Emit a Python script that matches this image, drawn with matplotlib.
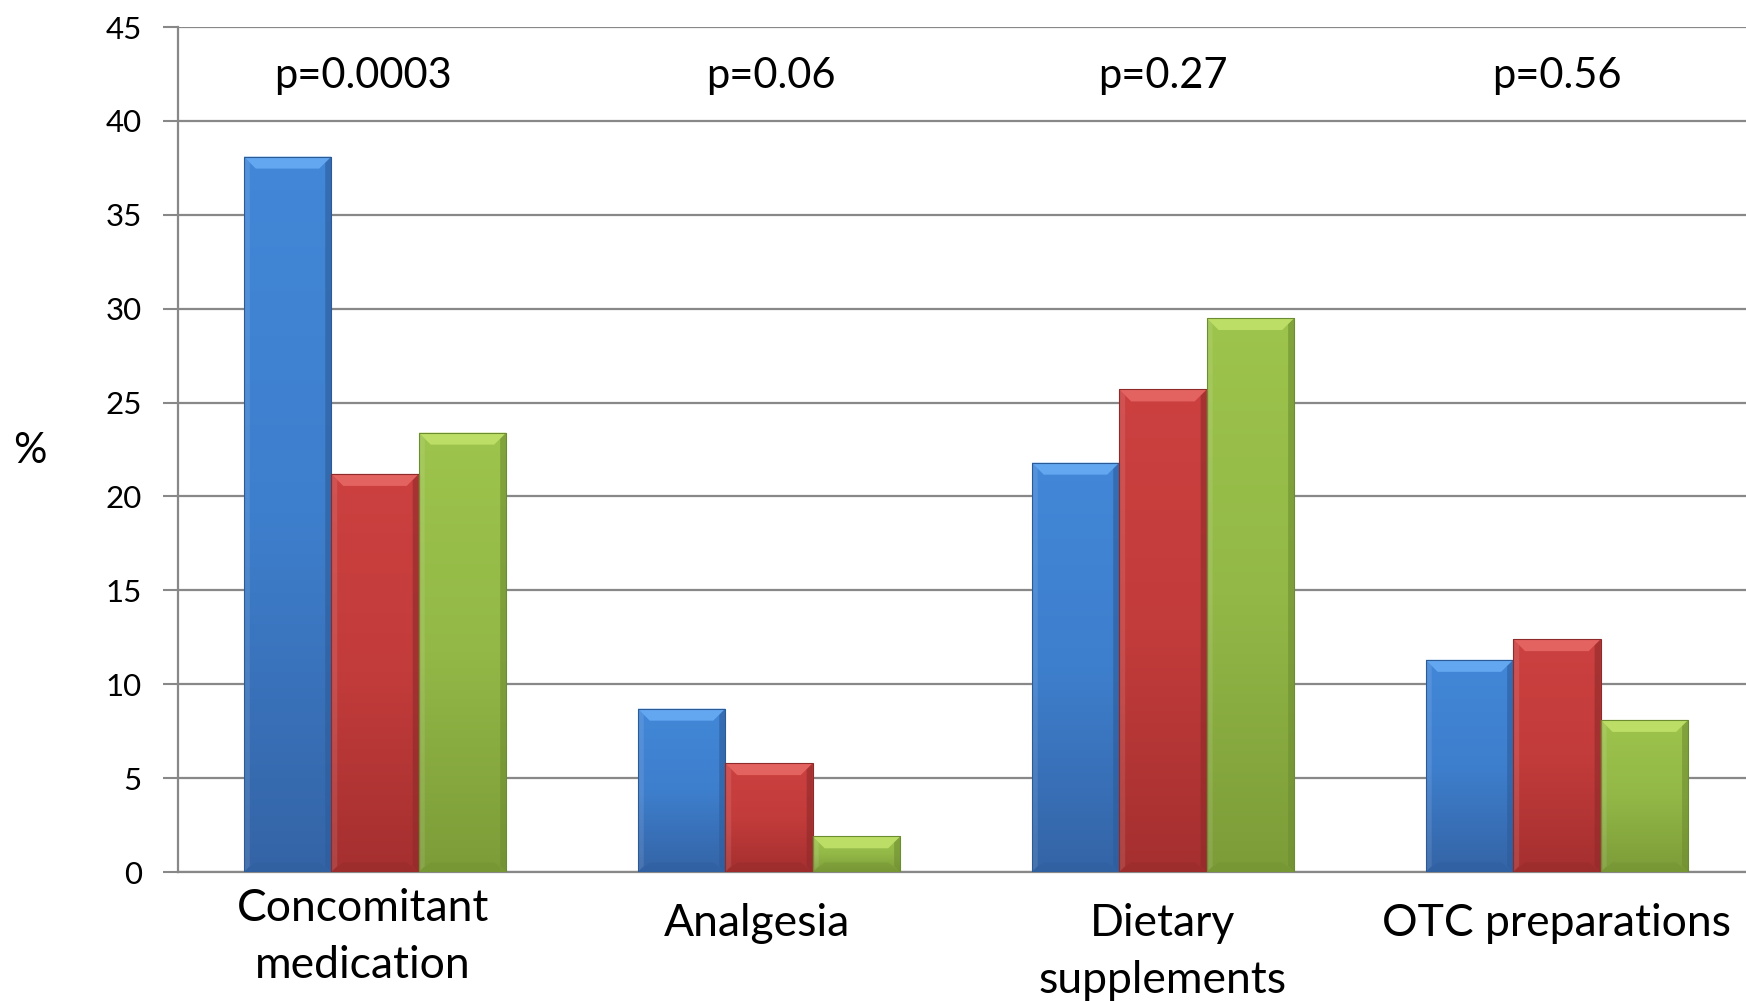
import matplotlib
matplotlib.use("Agg")
import matplotlib.pyplot as plt
import numpy as np
from matplotlib.colors import LinearSegmentedColormap

categories = ["Concomitant\nmedication", "Analgesia", "Dietary\nsupplements", "OTC preparations"]
blue_vals = [38.1, 8.7, 21.8, 11.3]
red_vals = [21.2, 5.8, 25.7, 12.4]
green_vals = [23.4, 1.9, 29.5, 8.1]
p_values = ["p=0.0003", "p=0.06", "p=0.27", "p=0.56"]
y_ticks = [0, 5, 10, 15, 20, 25, 30, 35, 40, 45]

plt.rcParams['font.family'] = ['Lato', 'DejaVu Sans']

W, H = 1746, 1001
fig = plt.figure(figsize=(W / 100, H / 100), dpi=100)
ax_left, ax_bottom, ax_top = 178, 872, 27
ax = fig.add_axes([ax_left / W, 1 - ax_bottom / H, (W - ax_left) / W, (ax_bottom - ax_top) / H])

ax.set_xlim(-0.5, 3.48)
ax.set_ylim(0, 45)

x = np.arange(len(categories))
w = 0.222
series = [
    (blue_vals, ("#3464a6", "#3e7fcd", "#4287d8"), "#2c5a94", "#6aaef5", "#2d5c9a"),
    (red_vals, ("#a52f2f", "#c23c3b", "#cc4040"), "#8e2a2a", "#e86a66", "#8f2a2a"),
    (green_vals, ("#7c9c38", "#93b847", "#9dc44c"), "#6b8c30", "#c3e36c", "#6f8e32"),
]

# pixel -> data conversions for bevel size
px_x = (3.48 + 0.5) / (W - ax_left)
px_y = 45.0 / (ax_bottom - ax_top)
bev = 12

for i, (vals, cols, edge, light, dark) in enumerate(series):
    bars = ax.bar(x + (i - 1) * w, vals, width=w, color=cols[1], edgecolor=edge,
                  linewidth=0.8, zorder=3)
    cmap = LinearSegmentedColormap.from_list("g", [cols[0], cols[1], cols[2]])
    for b in bars:
        x0, y0 = b.get_x(), b.get_y()
        bw, bh = b.get_width(), b.get_height()
        grad = np.linspace(0, 1, 256).reshape(-1, 1)
        grad = np.hstack([grad, grad])
        im = ax.imshow(grad, extent=[x0, x0 + bw, y0, y0 + bh], origin="lower",
                       cmap=cmap, aspect="auto", zorder=3.5, interpolation="bicubic")
        im.set_clip_path(b)
        dx, dy = bev * px_x, min(bev * px_y, bh / 2)
        # top bevel
        ax.fill([x0, x0 + bw, x0 + bw - dx, x0 + dx], [bh, bh, bh - dy, bh - dy],
                color=light, alpha=0.85, zorder=3.7, linewidth=0)
        # left bevel
        ax.fill([x0, x0 + dx * 0.5, x0 + dx * 0.5, x0], [0, dy * 0.5, bh - dy * 0.5, bh],
                color="white", alpha=0.10, zorder=3.6, linewidth=0)
        # right bevel
        ax.fill([x0 + bw, x0 + bw - dx * 0.5, x0 + bw - dx * 0.5, x0 + bw],
                [0, dy * 0.5, bh - dy * 0.5, bh], color=dark, alpha=0.6, zorder=3.6,
                linewidth=0)
        # bottom bevel
        ax.fill([x0, x0 + bw, x0 + bw - dx, x0 + dx], [0, 0, dy * 0.8, dy * 0.8],
                color=dark, alpha=0.35, zorder=3.6, linewidth=0)
        b.set_zorder(3.8)
        b.set_facecolor("none")

ax.set_yticks(y_ticks)
ax.tick_params(axis="y", labelsize=22.5, length=11, width=1.5, color="#888888", pad=15)
ax.set_xticks(x)
ax.set_xticklabels([])
ax.tick_params(axis="x", length=0)
ax.yaxis.grid(True, color="#888888", linewidth=1.6, zorder=0)
ax.set_axisbelow(True)
for s in ["top", "right"]:
    ax.spines[s].set_visible(False)
for s in ["left", "bottom"]:
    ax.spines[s].set_color("#888888")
    ax.spines[s].set_linewidth(1.6)

p_dx = [-0.03, 0.005, 0.0, 0.0]
for xi, p, d in zip(x, p_values, p_dx):
    ax.text(xi + d, 41.75, p, ha="center", va="baseline", fontsize=30)

# category labels, line by line (baseline offsets in points below the axis)
label_base = [-35.3, -46, -46, -46]
label_dx = [-0.031, -0.03, 0, 0]
line_step = 41
for xi, lab, yb, dx in zip(x, categories, label_base, label_dx):
    for k, line in enumerate(lab.split("\n")):
        ax.annotate(line, (xi + dx, 0), xytext=(0, yb - k * line_step),
                    textcoords="offset points", ha="center", va="baseline",
                    fontsize=32, annotation_clip=False)

fig.text(30 / W, 1 - 451 / H, "%", ha="center", va="center", fontsize=30)

fig.savefig("out.png", dpi=100)
